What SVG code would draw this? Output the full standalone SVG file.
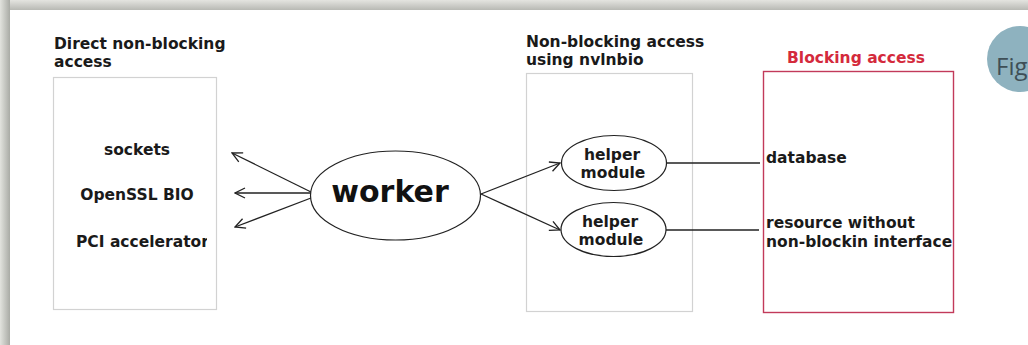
<svg xmlns="http://www.w3.org/2000/svg" width="1028" height="345" viewBox="0 0 1028 345">
<style>
.lbl{font-family:"DejaVu Sans",sans-serif;font-weight:bold;font-size:15.5px;fill:#1a1a1a}
.box{fill:none;stroke:#d2d2d2;stroke-width:1.2}
.edge{stroke:#222;stroke-width:1.3;fill:none}
.node{fill:#fff;stroke:#222;stroke-width:1.2}
</style>
<defs>
<marker id="open" viewBox="0 0 12 12" refX="11" refY="6" markerWidth="12" markerHeight="12" markerUnits="userSpaceOnUse" orient="auto">
<path d="M1,1 L11,6 L1,11" fill="none" stroke="#222" stroke-width="1.3"/>
</marker>
<linearGradient id="gTop" x1="0" y1="0" x2="0" y2="1">
<stop offset="0" stop-color="#e4e4e0"/><stop offset="1" stop-color="#b8b9b4"/>
</linearGradient>
<linearGradient id="gLeft" x1="0" y1="0" x2="1" y2="0">
<stop offset="0" stop-color="#e2e3de"/><stop offset="1" stop-color="#a9aba5"/>
</linearGradient>
<clipPath id="clipLeft"><rect x="54" y="78" width="153" height="230"/></clipPath>
</defs>
<rect x="0" y="0" width="1028" height="345" fill="#ffffff"/>
<rect x="0" y="0" width="1028" height="10" fill="url(#gTop)"/>
<rect x="0" y="0" width="10" height="345" fill="url(#gLeft)"/>

<g id="fig">
<circle cx="1020" cy="59" r="33" fill="#8eb2bf"/>
<text x="996" y="75" style="font-family:'Open Sans','Noto Sans',sans-serif;font-size:24px;fill:#3f4f56">Fig</text>
</g>

<g id="direct">
<rect class="box" x="53.5" y="77.5" width="163" height="232"/>
<text class="lbl" x="54" y="49">Direct non-blocking</text>
<text class="lbl" x="54" y="67">access</text>
<text class="lbl" x="137" y="155" text-anchor="middle">sockets</text>
<text class="lbl" x="137" y="200" text-anchor="middle">OpenSSL BIO</text>
<text class="lbl" x="76" y="247" clip-path="url(#clipLeft)">PCI accelerator</text>
</g>

<g id="nvlnbio">
<rect class="box" x="526.5" y="73.5" width="166" height="238"/>
<text class="lbl" x="526" y="47">Non-blocking access</text>
<text class="lbl" x="526" y="65">using nvlnbio</text>
</g>

<g id="blocking">
<rect x="763.5" y="71.5" width="190" height="241" fill="none" stroke="#c23a5a" stroke-width="1.4"/>
<text class="lbl" x="856" y="63" text-anchor="middle" style="fill:#d42a3c">Blocking access</text>
<text class="lbl" x="766" y="163">database</text>
<text class="lbl" x="766" y="228">resource without</text>
<text class="lbl" x="766" y="247">non-blockin interface</text>
</g>

<g id="connectors">
<line class="edge" x1="311" y1="192" x2="232" y2="153" marker-end="url(#open)"/>
<line class="edge" x1="311" y1="193" x2="235" y2="193" marker-end="url(#open)"/>
<line class="edge" x1="311" y1="198" x2="235" y2="227" marker-end="url(#open)"/>
<line class="edge" x1="481" y1="194" x2="560" y2="163" marker-end="url(#open)"/>
<line class="edge" x1="481" y1="194" x2="560" y2="230" marker-end="url(#open)"/>
<line class="edge" x1="667" y1="163" x2="760" y2="163"/>
<line class="edge" x1="666" y1="230" x2="759" y2="230"/>
</g>

<g id="worker">
<ellipse class="node" cx="395.5" cy="195.5" rx="85" ry="44.5"/>
<text class="lbl" x="390" y="202" text-anchor="middle" style="font-size:30px;fill:#111">worker</text>
</g>

<g id="helper1">
<ellipse class="node" cx="614" cy="163" rx="52.5" ry="27.5"/>
<text class="lbl" x="612" y="160" text-anchor="middle">helper</text>
<text class="lbl" x="613" y="178" text-anchor="middle">module</text>
</g>

<g id="helper2">
<ellipse class="node" cx="613.5" cy="229.5" rx="52.5" ry="27"/>
<text class="lbl" x="610" y="227" text-anchor="middle">helper</text>
<text class="lbl" x="611" y="245" text-anchor="middle">module</text>
</g>
</svg>
